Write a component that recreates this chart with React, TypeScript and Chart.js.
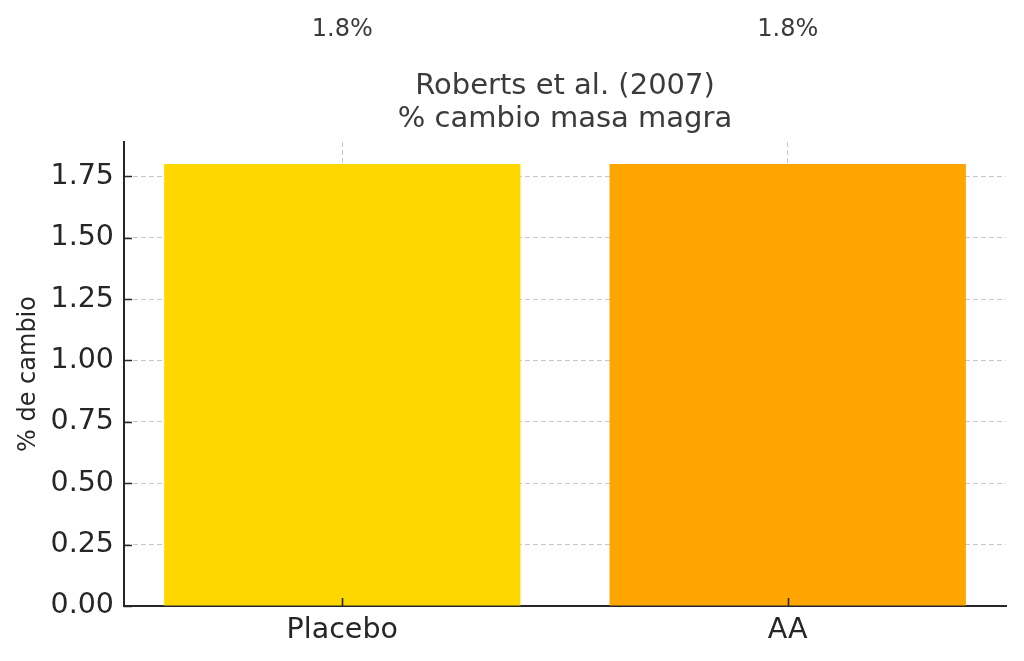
import React, { useEffect, useRef } from "react";
import { Chart, registerables } from "chart.js";

Chart.register(...registerables);

const CATEGORIES = ["Placebo", "AA"];
const VALUES = [1.8, 1.8];
const BAR_COLORS = ["#FFD700", "#FFA500"];
const Y_TICKS = [0, 0.25, 0.5, 0.75, 1.0, 1.25, 1.5, 1.75];
const Y_MAX = 1.89;
const X_MIN = -0.49;
const X_MAX = 1.49;
const LABEL_OFFSET = 0.5;
const TITLE_LINES = ["Roberts et al. (2007)", "% cambio masa magra"];
const Y_LABEL = "% de cambio";

const FONT = "'DejaVu Sans', 'Liberation Sans', sans-serif";
const DARK = "#262626";
const TEXT_GREY = "#3b3b3b";
const GRID = "#c8c8c8";

const extrasPlugin = {
  id: "extras",
  afterDraw(chart: any) {
    const { ctx, chartArea } = chart;
    const xs = chart.scales.x;
    const ys = chart.scales.y;
    ctx.save();
    // inward tick marks
    ctx.strokeStyle = DARK;
    ctx.lineWidth = 1.6;
    ctx.beginPath();
    ys.ticks.forEach((t: any) => {
      const py = Math.round(ys.getPixelForValue(t.value)) + 0.5;
      ctx.moveTo(chartArea.left, py);
      ctx.lineTo(chartArea.left + 8, py);
    });
    xs.ticks.forEach((t: any) => {
      const px = Math.round(xs.getPixelForValue(t.value)) + 0.5;
      ctx.moveTo(px, chartArea.bottom);
      ctx.lineTo(px, chartArea.bottom - 8);
    });
    ctx.stroke();
    // value annotations
    ctx.fillStyle = TEXT_GREY;
    ctx.font = `24px ${FONT}`;
    ctx.textAlign = "center";
    ctx.textBaseline = "bottom";
    VALUES.forEach((v, i) => {
      ctx.fillText(
        `${v.toFixed(1)}%`,
        xs.getPixelForValue(i),
        ys.getPixelForValue(v + LABEL_OFFSET)
      );
    });
    ctx.restore();
  },
};

export default function App() {
  const ref = useRef<HTMLCanvasElement>(null);

  useEffect(() => {
    if (!ref.current) return;
    const chart = new Chart(ref.current, {
      type: "bar",
      data: {
        datasets: [
          {
            data: VALUES.map((v, i) => ({ x: i, y: v })),
            backgroundColor: BAR_COLORS,
            borderWidth: 0,
            barPercentage: 0.8,
            categoryPercentage: 1,
          },
        ],
      },
      options: {
        responsive: false,
        animation: false,
        layout: { padding: { left: 0, right: 18, top: 0, bottom: 0 } },
        plugins: {
          legend: { display: false },
          tooltip: { enabled: false },
          title: {
            display: true,
            fullSize: false,
            text: TITLE_LINES,
            color: TEXT_GREY,
            font: { family: FONT, size: 29, weight: "normal", lineHeight: 33 / 29 },
            padding: { top: 70.3, bottom: 5.7 },
          },
        },
        scales: {
          x: {
            type: "linear",
            min: X_MIN,
            max: X_MAX,
            offset: false,
            z: 1,
            afterBuildTicks: (scale: any) => {
              scale.ticks = CATEGORIES.map((_, i) => ({ value: i }));
            },
            afterFit: (scale: any) => {
              scale.height = 55;
            },
            ticks: {
              color: DARK,
              font: { family: FONT, size: 28.5 },
              padding: 7,
              maxRotation: 0,
              autoSkip: false,
              callback: (v: any) => CATEGORIES[Number(v)] ?? "",
            },
            grid: { color: GRID, lineWidth: 1, drawTicks: false, offset: false },
            border: { color: DARK, width: 2, dash: [5, 3] },
          },
          y: {
            min: 0,
            max: Y_MAX,
            z: 1,
            afterBuildTicks: (scale: any) => {
              scale.ticks = Y_TICKS.map((v) => ({ value: v }));
            },
            afterFit: (scale: any) => {
              scale.width = 124;
            },
            ticks: {
              color: DARK,
              font: { family: FONT, size: 28.5 },
              padding: 10,
              callback: (v: any) => Number(v).toFixed(2),
            },
            grid: {
              color: (c: any) => (c.tick && c.tick.value === 0 ? "rgba(0,0,0,0)" : GRID),
              lineWidth: 1,
              drawTicks: false,
            },
            border: { color: DARK, width: 2, dash: [5, 3] },
            title: {
              display: true,
              text: Y_LABEL,
              color: DARK,
              font: { family: FONT, size: 24, lineHeight: 1.2 },
              padding: { top: 14, bottom: 0 },
            },
          },
        },
      },
      plugins: [extrasPlugin],
    } as any);
    return () => chart.destroy();
  }, []);

  return (
    <div style={{ position: "absolute", left: 0, top: 0, width: 1024, height: 661, background: "#fff" }}>
      <canvas ref={ref} width={1024} height={661} style={{ display: "block" }} />
    </div>
  );
}
